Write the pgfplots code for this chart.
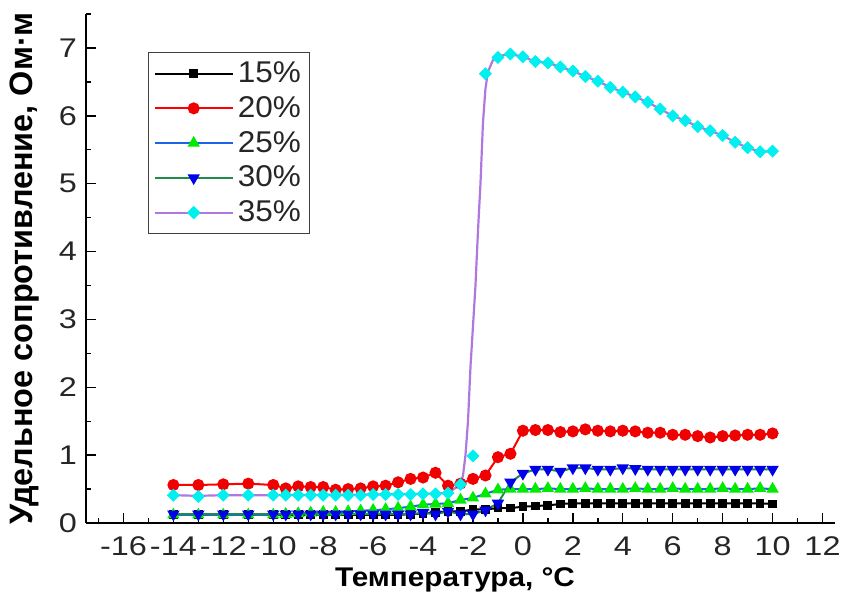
\documentclass[border=0pt]{standalone}
\usepackage{fontspec}
\setmainfont{Liberation Sans}
\newfontfamily\tickfont[FakeStretch=1.2]{Liberation Sans}
\newfontfamily\xlabfont[FakeStretch=1.1]{Liberation Sans}
\newfontfamily\legfont[FakeStretch=1.05]{Liberation Sans}
\newfontfamily\ylabfont{Liberation Sans}
\usepackage{pgfplots}
\usepackage{pgfplotstable}
\pgfplotsset{compat=1.18}
\definecolor{lblue}{RGB}{30,100,230}
\definecolor{lgreen}{RGB}{30,140,70}
\definecolor{mgreen}{RGB}{0,235,0}
\definecolor{mblue}{RGB}{0,0,235}
\definecolor{purp}{RGB}{175,120,225}
\definecolor{mcyan}{RGB}{0,240,240}
\definecolor{mred}{RGB}{240,0,0}
\pgfplotstableread{
x    a     b     c     d     e
-14  0.12  0.56  0.12  0.13  0.41
-13  0.12  0.56  0.12  0.13  0.39
-12  0.12  0.57  0.12  0.13  0.41
-11  0.12  0.58  0.12  0.13  0.41
-10  0.12  0.56  0.12  0.13  0.41
-9.5 0.12  0.51  0.13  0.13  0.41
-9   0.12  0.54  0.14  0.13  0.41
-8.5 0.12  0.53  0.15  0.13  0.41
-8   0.12  0.53  0.16  0.13  0.41
-7.5 0.12  0.49  0.16  0.13  0.41
-7   0.12  0.50  0.17  0.13  0.41
-6.5 0.12  0.51  0.18  0.13  0.41
-6   0.12  0.54  0.19  0.13  0.42
-5.5 0.12  0.55  0.20  0.13  0.42
-5   0.12  0.60  0.22  0.13  0.42
-4.5 0.13  0.65  0.24  0.13  0.42
-4   0.14  0.67  0.27  0.15  0.43
-3.5 0.15  0.74  0.28  0.13  0.43
-3   0.17  0.55  0.29  0.17  0.44
-2.5 0.17  0.58  0.34  0.13  0.57
-2   0.20  0.65  0.37  0.13  0.99
-1.5 0.20  0.70  0.43  0.19  6.62
-1   0.22  0.97  0.49  0.29  6.86
-0.5 0.22  1.02  0.50  0.60  6.91
0    0.24  1.36  0.50  0.73  6.87
0.5  0.25  1.37  0.50  0.79  6.80
1    0.26  1.37  0.51  0.79  6.78
1.5  0.28  1.34  0.50  0.76  6.72
2    0.29  1.35  0.50  0.81  6.66
2.5  0.29  1.38  0.51  0.81  6.58
3    0.29  1.36  0.50  0.79  6.51
3.5  0.29  1.35  0.50  0.79  6.42
4    0.29  1.36  0.50  0.81  6.35
4.5  0.29  1.35  0.51  0.80  6.28
5    0.29  1.33  0.50  0.79  6.20
5.5  0.29  1.33  0.50  0.79  6.10
6    0.29  1.30  0.51  0.79  6.00
6.5  0.29  1.30  0.50  0.79  5.93
7    0.29  1.28  0.50  0.79  5.84
7.5  0.29  1.26  0.50  0.79  5.78
8    0.29  1.28  0.51  0.79  5.71
8.5  0.29  1.29  0.50  0.79  5.61
9    0.29  1.30  0.50  0.79  5.53
9.5  0.29  1.30  0.51  0.79  5.47
10   0.28  1.32  0.50  0.79  5.48
}\data
\pgfplotstableread{
x    y
-14  0.41
-13  0.40
-12  0.41
-10  0.41
-6   0.42
-4   0.43
-3   0.44
-2.5 0.57
-2.4 0.70
-2.3 1.00
-2.2 1.50
-2.1 2.30
-2.0 2.90
-1.9 3.50
-1.8 4.30
-1.7 5.00
-1.6 5.90
-1.5 6.40
-1.4 6.65
-1.2 6.82
-1.0 6.88
-0.5 6.91
0    6.87
0.5  6.80
1    6.78
1.5  6.72
2    6.66
2.5  6.58
3    6.51
3.5  6.42
4    6.35
4.5  6.28
5    6.20
5.5  6.10
6    6.00
6.5  5.93
7    5.84
7.5  5.78
8    5.71
8.5  5.61
9    5.53
9.5  5.47
10   5.48
}\purpline
\begin{document}
\begin{tikzpicture}[x=1pt,y=1pt]
\useasboundingbox (0,0) rectangle (421,298);
\begin{axis}[
  at={(43pt,36.5pt)}, anchor=south west,
  scale only axis, width=374.5pt, height=254.5pt,
  xmin=-17.5, xmax=12.5, ymin=0, ymax=7.5,
  axis lines=left, axis line style={-, line width=0.8pt},
  xtick={-16,-14,...,12}, minor xtick={-17,-15,...,11},
  ytick={0,1,...,7}, minor ytick={0.5,1.5,...,7.5},
  tick align=inside, major tick length=5pt, minor tick length=2.5pt,
  tick style={black, line width=0.7pt},
  /pgf/number format/assume math mode=true,
  ticklabel style={font=\tickfont\fontsize{13.5}{15}\selectfont, text=black!85},
  xticklabel style={yshift=-3.5pt},
  yticklabel style={xshift=-1pt},
  xlabel={Температура, °C},
  ylabel={Удельное сопротивление, Ом·м},
  xlabel style={at={(axis description cs:0.4927,-0.111)}, anchor=center, font=\xlabfont\bfseries\fontsize{13.5}{15}\selectfont},
  ylabel style={at={(axis description cs:-0.0814,0.5)}, anchor=center, font=\ylabfont\bfseries\fontsize{16.2}{18}\selectfont},
  legend style={at={(rel axis cs:0.0828,0.925)}, anchor=north west, draw=black!75, line width=0.6pt,
    font=\legfont\fontsize{15}{17}\selectfont, text=black!85, row sep=1.4pt, inner sep=2.5pt},
  legend cell align=left,
  legend image code/.code={\draw[mark repeat=2,mark phase=2,#1] plot coordinates {(0pt,0pt) (19.5pt,0pt) (39pt,0pt)};},
]
\addplot[black, line width=1pt, mark=square*, mark size=1.7pt, mark options={solid}] table[x=x,y=a]{\data};
\addlegendentry{15\%}
\addplot[red, line width=1pt, mark=*, mark size=2.5pt, mark options={fill=mred, draw=mred}] table[x=x,y=b]{\data};
\addlegendentry{20\%}
\addplot[lblue, line width=1pt, mark=triangle*, mark size=2.6pt, mark options={fill=mgreen, draw=mgreen}] table[x=x,y=c]{\data};
\addlegendentry{25\%}
\addplot[lgreen, line width=1pt, mark=triangle*, mark size=2.6pt, mark options={fill=mblue, draw=mblue, rotate=180}] table[x=x,y=d]{\data};
\addlegendentry{30\%}
\addplot[purp, line width=1.1pt, forget plot] table[x=x,y=y]{\purpline};
\addplot[only marks, mark=square*, mark size=2.1pt, mark options={fill=mcyan, draw=mcyan, rotate=45},
  legend image code/.code={\draw[purp, line width=1.1pt] (0pt,0pt) -- (39pt,0pt); \draw[mark=square*, mark size=2.1pt, mark options={fill=mcyan, draw=mcyan, rotate=45}] plot coordinates {(19.5pt,0pt)};}] table[x=x,y=e]{\data};
\addlegendentry{35\%}
\end{axis}
\end{tikzpicture}
\end{document}
